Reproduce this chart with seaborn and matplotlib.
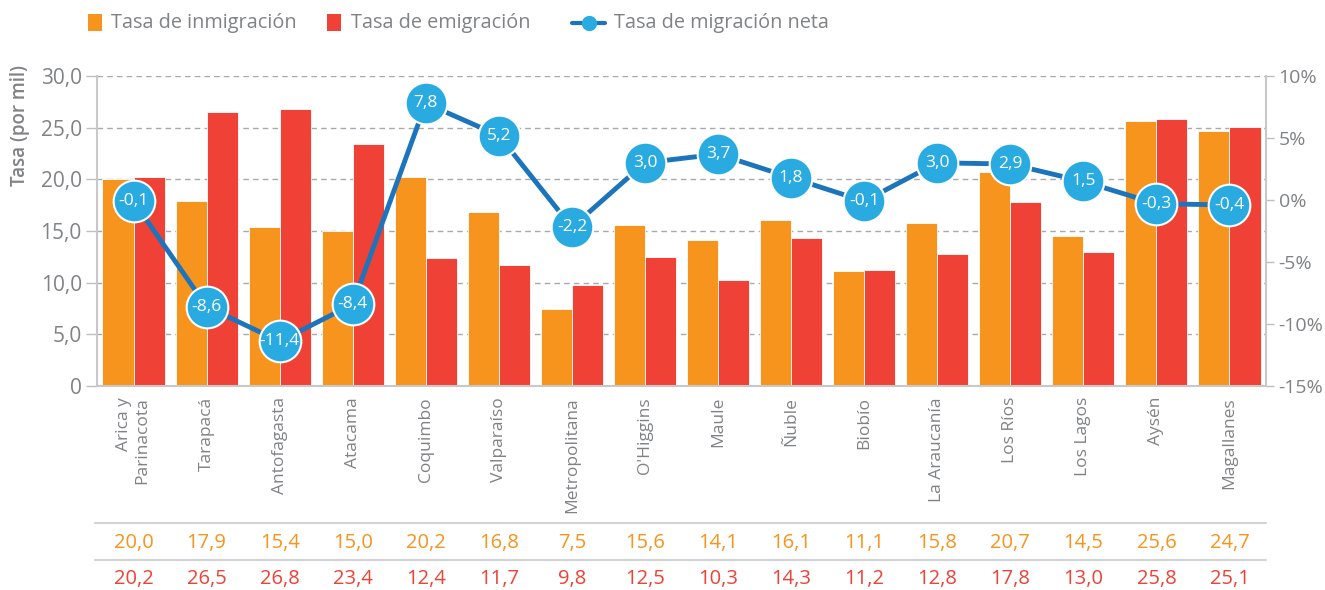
import matplotlib
matplotlib.use("Agg")
import matplotlib.pyplot as plt
from matplotlib.lines import Line2D
from matplotlib.patches import Rectangle
import matplotlib.transforms as mtransforms
import seaborn as sns
import pandas as pd
import numpy as np

## data
regiones = ["Arica y\nParinacota", "Tarapacá", "Antofagasta", "Atacama", "Coquimbo",
            "Valparaíso", "Metropolitana", "O'Higgins", "Maule", "Ñuble", "Biobío",
            "La Araucanía", "Los Ríos", "Los Lagos", "Aysén", "Magallanes"]
inmigracion = [20.0, 17.9, 15.4, 15.0, 20.2, 16.8, 7.5, 15.6, 14.1, 16.1, 11.1, 15.8, 20.7, 14.5, 25.6, 24.7]
emigracion = [20.2, 26.5, 26.8, 23.4, 12.4, 11.7, 9.8, 12.5, 10.3, 14.3, 11.2, 12.8, 17.8, 13.0, 25.8, 25.1]
neta = [-0.1, -8.6, -11.4, -8.4, 7.8, 5.2, -2.2, 3.0, 3.7, 1.8, -0.1, 3.0, 2.9, 1.5, -0.3, -0.4]
left_ticks = [0, 5, 10, 15, 20, 25, 30]
left_labels = ["0", "5,0", "10,0", "15,0", "20,0", "25,0", "30,0"]
right_ticks = [-15, -10, -5, 0, 5, 10]
right_labels = ["-15%", "-10%", "-5%", "0%", "5%", "10%"]
series_names = ["Tasa de inmigración", "Tasa de emigración", "Tasa de migración neta"]

ORANGE = "#F7941D"
RED = "#EF4136"
LINE = "#1C75BC"
DOT = "#29ABE2"
GREY = "#808285"

W, H = 1325, 590

sns.set_style("white")
plt.rcParams['font.family'] = ['Open Sans', 'DejaVu Sans']

df = pd.DataFrame({
    "region": regiones * 2,
    "tasa": inmigracion + emigracion,
    "serie": [series_names[0]] * len(regiones) + [series_names[1]] * len(regiones),
})

fig = plt.figure(figsize=(W / 100, H / 100), dpi=100)
ax = fig.add_axes([97 / W, 1 - 386 / H, (1266 - 97) / W, (386 - 76) / H])

sns.barplot(data=df, x="region", y="tasa", hue="serie", palette=[ORANGE, RED],
            width=0.85, edgecolor="white", linewidth=0.6, saturation=1, ax=ax, legend=False, zorder=2)

ax.set_ylim(0, 30)
ax.set_xlim(-0.5, len(regiones) - 0.5)
ax.set_yticks(left_ticks)
ax.set_yticklabels(left_labels)
for y in left_ticks[1:]:
    ax.axhline(y, color="#A7A9AC", linestyle=(0, (4, 3)), linewidth=1, zorder=1)
ax.set_xlabel("")
ax.set_ylabel("Tasa (por mil)", color=GREY, fontsize=13.5, fontweight="semibold")
ax.yaxis.set_label_coords(-0.057, 0.84)
ax.tick_params(axis="y", colors="#BCBEC0", length=8, width=1, labelcolor=GREY, labelsize=15, pad=3)
ax.tick_params(axis="x", length=0, labelcolor=GREY, labelsize=12.5, pad=8)
plt.setp(ax.get_xticklabels(), rotation=90, va="top", ha="center", multialignment="right")
for side in ["left", "bottom"]:
    ax.spines[side].set_color("#C8C8C8")
    ax.spines[side].set_linewidth(1.5)
ax.spines["top"].set_visible(False)
ax.spines["right"].set_visible(False)

## net migration on secondary axis
ax2 = ax.twinx()
xpos = np.arange(len(regiones))
sns.lineplot(x=xpos, y=neta, ax=ax2, color=LINE, linewidth=3.5, sort=False, zorder=3,
             marker="o", markersize=30, markerfacecolor=DOT, markeredgecolor="white",
             markeredgewidth=1.5)
for x, v in zip(xpos, neta):
    ax2.text(x, v, f"{v:.1f}".replace(".", ","), color="white", fontsize=12.5,
             ha="center", va="center", zorder=5)
ax2.set_ylim(-15, 10)
ax2.set_yticks(right_ticks)
ax2.set_yticklabels(right_labels)
ax2.tick_params(axis="y", colors="#BCBEC0", length=6, width=1, labelcolor=GREY, labelsize=14, pad=3)
for side in ["left", "top", "bottom"]:
    ax2.spines[side].set_visible(False)
ax2.spines["right"].set_color("#C8C8C8")
ax2.spines["right"].set_linewidth(1.5)

## table of values below the chart
trans = mtransforms.blended_transform_factory(ax.transData, fig.transFigure)
for y in [1 - 523 / H, 1 - 560 / H]:
    fig.add_artist(Line2D([95 / W, 1266 / W], [y, y], color="#D1D3D4", linewidth=1.5))
for i in range(len(regiones)):
    ax.text(i, 1 - 543 / H, f"{inmigracion[i]:.1f}".replace(".", ","), color=ORANGE,
            fontsize=14.5, ha="center", va="center", transform=trans, clip_on=False)
    ax.text(i, 1 - 579 / H, f"{emigracion[i]:.1f}".replace(".", ","), color=RED,
            fontsize=14.5, ha="center", va="center", transform=trans, clip_on=False)

## legend, placed by hand to follow the reference layout
ly = 1 - 23 / H
fig.add_artist(Rectangle((88 / W, 1 - 31 / H), 14 / W, 17 / H, facecolor=ORANGE,
                         edgecolor="none", transform=fig.transFigure))
fig.text(111 / W, ly, series_names[0], color=GREY, fontsize=14.3, va="center", ha="left")
fig.add_artist(Rectangle((327 / W, 1 - 31 / H), 14 / W, 17 / H, facecolor=RED,
                         edgecolor="none", transform=fig.transFigure))
fig.text(351 / W, ly, series_names[1], color=GREY, fontsize=14.3, va="center", ha="left")
fig.add_artist(Line2D([572 / W, 605 / W], [ly, ly], color=LINE, linewidth=3,
                      transform=fig.transFigure))
fig.add_artist(Line2D([588.5 / W], [ly], marker="o", markersize=10, markerfacecolor=DOT,
                      markeredgecolor=DOT, transform=fig.transFigure))
fig.text(614 / W, ly, series_names[2], color=GREY, fontsize=14.3, va="center", ha="left")

fig.savefig("out.png", dpi=100)
